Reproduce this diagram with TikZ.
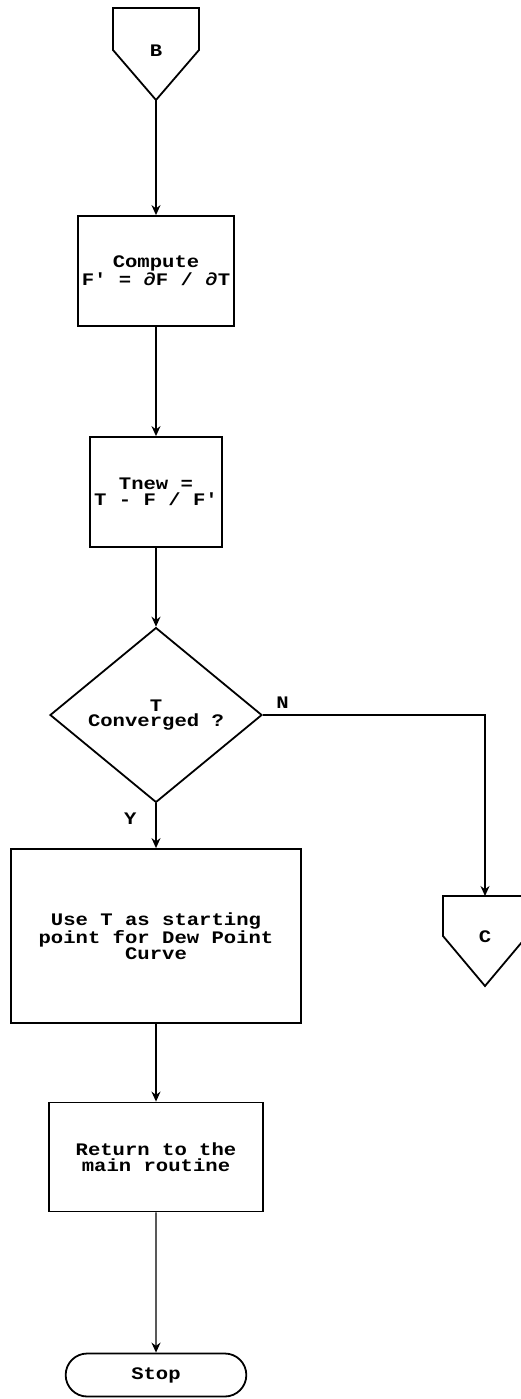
\documentclass[tikz,border=0pt]{standalone}
\usepackage{fontspec}
\newfontfamily\plotfont{Liberation Mono}[FakeStretch=1.17]
\usetikzlibrary{shapes.geometric, shapes.misc, arrows.meta}
\begin{document}
\begin{tikzpicture}[
    x=0.5pt, y=-0.5pt,
    font=\plotfont\bfseries\fontsize{8.8}{7.8}\selectfont,
    proc/.style={draw, line width=0.9pt, rectangle, align=center, inner sep=2pt},
    decision/.style={draw, line width=0.9pt, diamond, align=center, inner sep=1pt, minimum width=106pt, minimum height=68pt},
    terminal/.style={draw, line width=0.9pt, rounded rectangle, minimum width=97pt, minimum height=21.5pt},
    offpage/.style={draw, line width=0.9pt, line join=miter},
    lbl/.style={inner sep=0pt},
    flow/.style={line width=0.7pt, -{Stealth[length=5pt, width=4.5pt]}}
]

\useasboundingbox (0,0) rectangle (520,1399);

% Off-page connectors
\draw[offpage] (113,8) -- (199,8) -- (199,50) -- (156,100) -- (113,50) -- cycle;
\node (b) at (156,51) {B};
\coordinate (btip) at (156,100);

\draw[offpage] (443,896) -- (527,896) -- (527,936) -- (485,986) -- (443,936) -- cycle;
\node (c) at (485,937) {C};
\coordinate (ctop) at (485,896);

% Steps
\node[proc, minimum width=77pt, minimum height=55pt] (comp) at (156,271) {Compute\\F' = ∂F / ∂T};
\node[proc, minimum width=64pt, minimum height=55pt] (tnew) at (156,492) {Tnew =\\T - F / F'};
\node[decision] (conv) at (156,715) {T\\Converged ?};
\node[proc, minimum width=145pt, minimum height=87pt] (use) at (156,936) {Use T as starting\\point for Dew Point\\Curve};
\node[proc, minimum width=107pt, minimum height=54.5pt] (ret) at (156,1157) {Return to the\\main routine};
\node[terminal] (stop) at (156,1375) {Stop};

% Labels
\node[lbl, anchor=south west] (nlab) at ([xshift=6.5pt, yshift=3pt]conv.east) {N};
\node[lbl, anchor=north east] (ylab) at ([xshift=-9.5pt, yshift=-4.5pt]conv.south) {Y};

% Connectors
\draw[flow] (btip) -- (comp);
\draw[flow] (comp) -- (tnew);
\draw[flow] (tnew) -- (conv);
\draw[flow] (conv) -- (use);
\draw[flow] (use) -- (ret);
\draw[flow] (ret) -- (stop);
\draw[flow] (conv.east) -| (ctop);

\end{tikzpicture}
\end{document}
